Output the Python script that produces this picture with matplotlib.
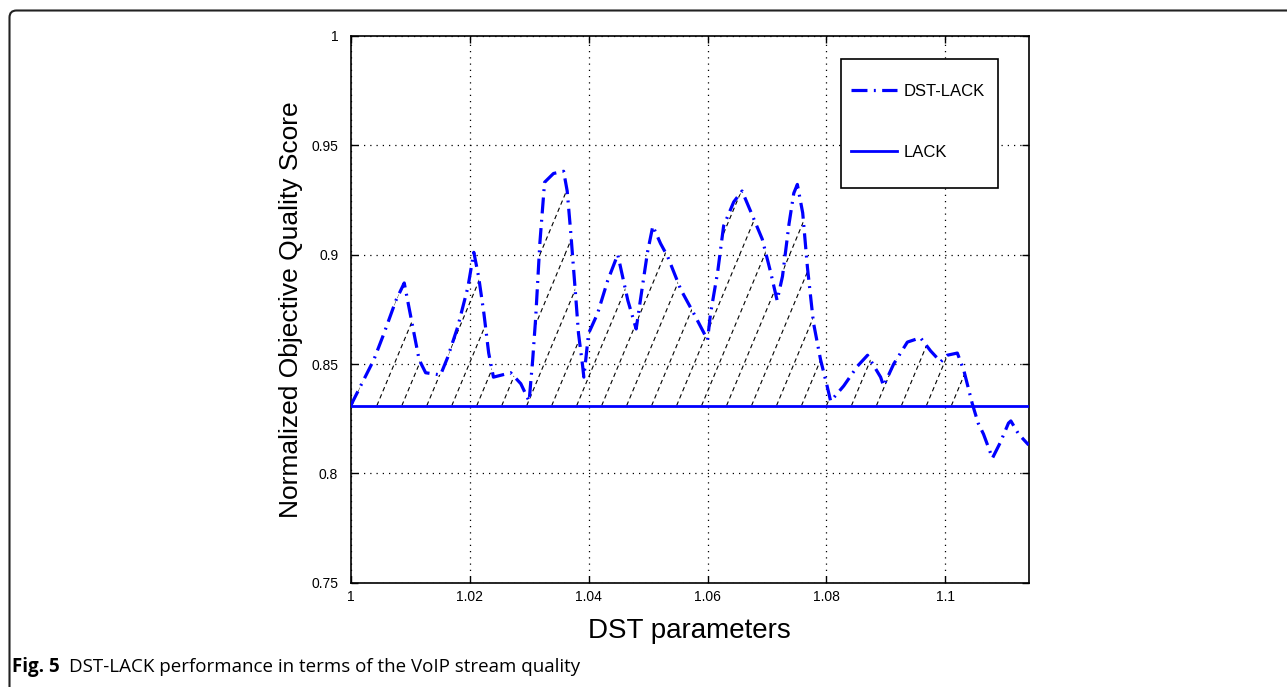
import numpy as np
import matplotlib
matplotlib.use("Agg")
import matplotlib.pyplot as plt
import matplotlib.patches as mpatches

# values
dst_x = [1.0000, 1.0039, 1.0056, 1.0076, 1.0090, 1.0100, 1.0115, 1.0126, 1.0151,
         1.0163, 1.0180, 1.0197, 1.0207, 1.0215, 1.0224, 1.0232, 1.0240, 1.0269,
         1.0286, 1.0300, 1.0306, 1.0311, 1.0318, 1.0326, 1.0341, 1.0358, 1.0364,
         1.0370, 1.0378, 1.0383, 1.0390, 1.0392, 1.0400, 1.0415, 1.0432, 1.0449,
         1.0466, 1.0480, 1.0487, 1.0499, 1.0508, 1.0521, 1.0533, 1.0555, 1.0577,
         1.0600, 1.0605, 1.0617, 1.0627, 1.0644, 1.0658, 1.0672, 1.0692, 1.0706,
         1.0717, 1.0726, 1.0737, 1.0745, 1.0751, 1.0760, 1.0768, 1.0778, 1.0790,
         1.0801, 1.0807, 1.0829, 1.0852, 1.0869, 1.0891, 1.0896, 1.0913, 1.0936,
         1.0958, 1.0975, 1.0992, 1.1003, 1.1020, 1.1031, 1.1045, 1.1055, 1.1064,
         1.1079, 1.1092, 1.1106, 1.1110, 1.1123, 1.1140]
dst_y = [0.831, 0.852, 0.864, 0.879, 0.887, 0.873, 0.852, 0.846, 0.845,
         0.853, 0.867, 0.885, 0.901, 0.890, 0.873, 0.855, 0.844, 0.846,
         0.841, 0.833, 0.852, 0.871, 0.905, 0.933, 0.937, 0.938, 0.929,
         0.910, 0.882, 0.864, 0.849, 0.844, 0.864, 0.873, 0.888, 0.900,
         0.879, 0.866, 0.879, 0.901, 0.913, 0.905, 0.899, 0.884, 0.873,
         0.861, 0.873, 0.892, 0.913, 0.924, 0.929, 0.920, 0.907, 0.892,
         0.879, 0.890, 0.914, 0.928, 0.932, 0.919, 0.894, 0.869, 0.852,
         0.840, 0.833, 0.840, 0.849, 0.854, 0.844, 0.840, 0.850, 0.860,
         0.862, 0.856, 0.851, 0.854, 0.855, 0.847, 0.832, 0.823, 0.818,
         0.807, 0.814, 0.823, 0.824, 0.818, 0.813]
lack_y = 0.831

x_ticks = [1.0, 1.02, 1.04, 1.06, 1.08, 1.1]
x_labels = ["1", "1.02", "1.04", "1.06", "1.08", "1.1"]
y_ticks = [0.75, 0.8, 0.85, 0.9, 0.95, 1.0]
y_labels = ["0.75", "0.8", "0.85", "0.9", "0.95", "1"]

plt.rcParams["font.family"] = ["Liberation Sans", "DejaVu Sans"]

fig = plt.figure(figsize=(12.87, 6.87), dpi=100)
ax = fig.add_axes([0.2725, 0.1514, 0.5268, 0.7969])

dx = np.array(dst_x)
dy = np.array(dst_y)

# shaded gain region, hatched with dashed diagonals like the matlab hatchfill
poly = ax.fill_between(dx, lack_y, dy, where=dy >= lack_y, interpolate=True,
                       facecolor="none", edgecolor="none")
for x0 in np.arange(0.996, 1.11, 0.0042):
    ln, = ax.plot([x0, x0 + 0.02], [lack_y, lack_y + 0.13], color="k",
                  lw=0.8, dashes=(4, 3), zorder=1)
    ln.set_clip_path(poly.get_paths()[0], ax.transData)

ax.plot(dx, dy, color="#0000ff", lw=2.3, linestyle=(0, (5, 2, 0.6, 2)),
        label="DST-LACK", zorder=3)
ax.axhline(lack_y, color="#0000ff", lw=2, label="LACK", zorder=3)

ax.set_xlim(1.0, 1.114)
ax.set_ylim(0.75, 1.0)
ax.set_xticks(x_ticks)
ax.set_xticklabels(x_labels)
ax.set_yticks(y_ticks)
ax.set_yticklabels(y_labels)
ax.tick_params(direction="in", top=True, right=True, length=5, labelsize=10,
               width=1)
ax.tick_params(axis="y", pad=9)
ax.tick_params(axis="x", pad=5)
ax.grid(True, color="k", linestyle=(0, (1, 4)), lw=0.9)
for s in ax.spines.values():
    s.set_linewidth(1.2)

ax.set_xlabel("DST parameters", fontsize=20, labelpad=10)
ax.set_ylabel("Normalized Objective Quality Score", fontsize=19, labelpad=6)

# legend: entries without frame, plain box drawn separately
leg = ax.legend(loc="center left", bbox_to_anchor=(0.7375, 0.842), fontsize=12,
                frameon=False, handlelength=2.8, labelspacing=2.75,
                borderpad=0, handletextpad=0.36, borderaxespad=0)
box = mpatches.Rectangle((0.7227, 0.7215), 0.954 - 0.7227, 0.957 - 0.7215,
                         transform=ax.transAxes, facecolor="white",
                         edgecolor="k", lw=1.2, zorder=4)
ax.add_patch(box)
leg.set_zorder(5)

# page frame and caption
frame = mpatches.FancyBboxPatch((9.5, -40), 1400, 687 - 10.5 + 40,
                                boxstyle="round,pad=0,rounding_size=7",
                                transform=None, facecolor="none",
                                edgecolor="#222222", lw=1.5)
fig.add_artist(frame)
fig.text(12 / 1287, 1 - 667 / 687, "Fig. 5", fontsize=13.5, fontweight="bold",
         family="Open Sans", va="center")
fig.text(69 / 1287, 1 - 667 / 687,
         "DST-LACK performance in terms of the VoIP stream quality",
         fontsize=13.5, family="Open Sans", va="center")

fig.savefig("out.png", dpi=100)
